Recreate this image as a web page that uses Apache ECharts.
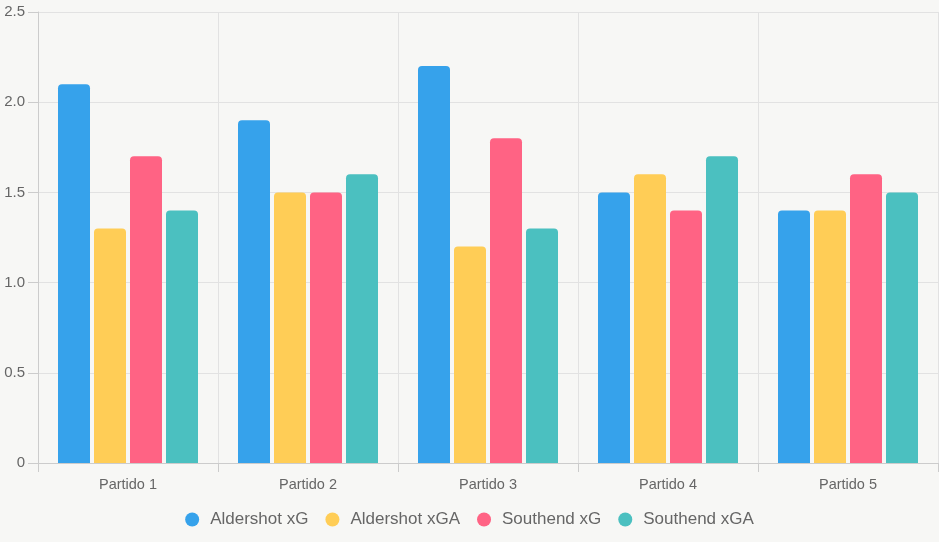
<!DOCTYPE html>
<html><head><meta charset="utf-8">
<script src="https://cdn.jsdelivr.net/npm/echarts@6/dist/echarts.min.js"></script>
<style>html,body{margin:0;padding:0;background:#f7f7f5;}#c{width:939px;height:542px;}</style>
</head><body><div id="c"></div>
<script>
const categories = ['Partido 1','Partido 2','Partido 3','Partido 4','Partido 5'];
const seriesNames = ['Aldershot xG','Aldershot xGA','Southend xG','Southend xGA'];
const aldershotXG = [2.1, 1.9, 2.2, 1.5, 1.4];
const aldershotXGA = [1.3, 1.5, 1.2, 1.6, 1.4];
const southendXG = [1.7, 1.5, 1.8, 1.4, 1.6];
const southendXGA = [1.4, 1.6, 1.3, 1.7, 1.5];
const colors = ['#36a2eb','#ffcd56','#ff6384','#4bc0c0'];
const values = [aldershotXG, aldershotXGA, southendXG, southendXGA];

const chart = echarts.init(document.getElementById('c'));
chart.setOption({
  backgroundColor: '#f7f7f5',
  animation: false,
  grid: {left: 38, right: 1, top: 12, bottom: 79, containLabel: false},
  legend: {
    top: 506, left: 'center', icon: 'circle', itemWidth: 26, itemHeight: 14, itemGap: 17,
    textStyle: {color: '#666', fontSize: 17, fontFamily: 'Liberation Sans, Arial, sans-serif'},
    data: seriesNames
  },
  xAxis: {
    type: 'category', data: categories,
    axisLine: {show: true, lineStyle: {color: '#ccc'}},
    axisTick: {show: true, length: 9, lineStyle: {color: '#ccc'}},
    splitLine: {show: true, lineStyle: {color: '#e2e2e2'}},
    axisLabel: {color: '#666', fontSize: 14.5, margin: 14, fontFamily: 'Liberation Sans, Arial, sans-serif'}
  },
  yAxis: {
    type: 'value', min: 0, max: 2.5, interval: 0.5,
    axisLine: {show: true, lineStyle: {color: '#ccc'}},
    axisTick: {show: true, length: 10, lineStyle: {color: '#ccc'}},
    splitLine: {show: true, lineStyle: {color: '#e2e2e2'}},
    axisLabel: {color: '#666', fontSize: 15, margin: 13, fontFamily: 'Liberation Sans, Arial, sans-serif',
      formatter: v => v === 0 ? '0' : v.toFixed(1)}
  },
  series: seriesNames.map((n, i) => ({
    name: n, type: 'bar', data: values[i], barWidth: 32, barGap: '12.5%',
    itemStyle: {color: colors[i], borderRadius: [4,4,0,0]}
  })),
  color: colors
});
</script></body></html>
